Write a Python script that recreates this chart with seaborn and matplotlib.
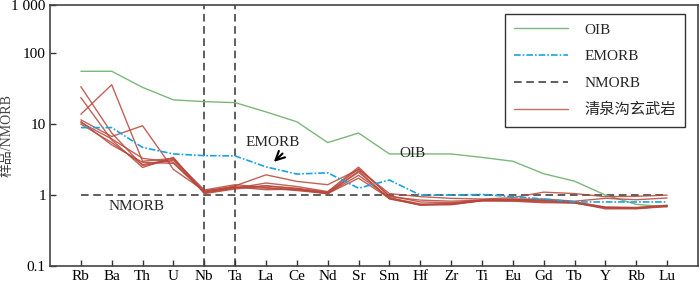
import numpy as np
import pandas as pd
import seaborn as sns
import matplotlib.pyplot as plt
from matplotlib.lines import Line2D

elements = ['Rb', 'Ba', 'Th', 'U', 'Nb', 'Ta', 'La', 'Ce', 'Nd', 'Sr', 'Sm',
            'Hf', 'Zr', 'Ti', 'Eu', 'Gd', 'Tb', 'Y', 'Rb', 'Lu']

oib = [55.7, 55.7, 33, 22, 20.8, 20.1, 14.9, 10.8, 5.5, 7.5, 3.8,
       3.8, 3.8, 3.4, 3.0, 2.0, 1.57, 1.0, 0.74, 0.68]
emorb = [8.95, 8.95, 4.7, 3.8, 3.6, 3.57, 2.5, 1.98, 2.06, 1.25, 1.63,
         1.0, 1.0, 1.02, 0.95, 0.88, 0.80, 0.80, 0.80, 0.80]
nmorb = [1.0] * 20

s1 = [13.8, 36, 3.0, 3.3, 1.12, 1.35, 1.93, 1.56, 1.4, 2.3, 1.05,
      0.95, 0.9, 0.88, 0.92, 1.1, 1.05, 0.95, 0.96, 1.0]
s2 = [33.8, 7.5, 2.6, 3.1, 1.07, 1.25, 1.48, 1.32, 1.12, 2.48, 0.95,
      0.85, 0.82, 0.85, 0.88, 0.88, 0.82, 0.9, 0.86, 0.91]
s3 = [23.7, 6.0, 2.45, 3.4, 1.05, 1.22, 1.35, 1.22, 1.08, 2.1, 0.9,
      0.73, 0.75, 0.84, 0.85, 0.82, 0.78, 0.66, 0.65, 0.7]
s4 = [11.5, 6.7, 9.5, 2.3, 1.15, 1.3, 1.25, 1.16, 1.05, 1.73, 0.9,
      0.72, 0.73, 0.83, 0.82, 0.78, 0.78, 0.64, 0.64, 0.69]
s5 = [10.9, 5.1, 2.9, 2.8, 1.1, 1.3, 1.19, 1.22, 1.04, 2.2, 0.88,
      0.73, 0.76, 0.83, 0.83, 0.8, 0.77, 0.66, 0.65, 0.7]
s6 = [10.0, 5.5, 2.7, 3.2, 1.18, 1.4, 1.28, 1.18, 1.06, 1.9, 0.92,
      0.75, 0.74, 0.84, 0.86, 0.84, 0.8, 0.67, 0.66, 0.71]
s7 = [10.5, 6.2, 3.3, 2.9, 1.09, 1.28, 1.35, 1.25, 1.1, 2.35, 0.98,
      0.8, 0.78, 0.85, 0.87, 0.85, 0.8, 0.68, 0.67, 0.72]
samples = [s1, s2, s3, s4, s5, s6, s7]

pos = np.arange(len(elements))

rows = []
for i, s in enumerate(samples):
    for p, v in zip(pos, s):
        rows.append({'pos': p, 'value': v, 'sample': i})
df = pd.DataFrame(rows)

sns.set_style('ticks')
plt.rcParams['font.family'] = ['Liberation Serif', 'Noto Sans CJK SC']
plt.rcParams['font.size'] = 11

fig = plt.figure(figsize=(7, 2.84), dpi=100)
ax = fig.add_axes([50 / 700, 1 - 266 / 284, 648 / 700, 261 / 284])

ax.axvline(4, color='#333333', ls=(0, (5, 3)), lw=1.1, zorder=1)
ax.axvline(5, color='#333333', ls=(0, (5, 3)), lw=1.1, zorder=1)

sns.lineplot(x=pos, y=oib, ax=ax, color='#7ab87a', lw=1.0, zorder=3)
sns.lineplot(x=pos, y=nmorb, ax=ax, color='#333333', lw=1.1,
             linestyle=(0, (5, 3)), zorder=2)
sns.lineplot(data=df, x='pos', y='value', units='sample', estimator=None,
             ax=ax, color='#b8473a', lw=1.0, alpha=0.85, zorder=4)
sns.lineplot(x=pos, y=emorb, ax=ax, color='#1aa3e0', lw=1.2,
             linestyle=(0, (4, 1.2, 1, 1.2)), zorder=5)

ax.set_yscale('log')
top = 479
ax.set_ylim(0.1, top)
ax.set_xlim(-1, 20)
ax.set_yticks([0.1, 1, 10, 100, top])
ax.set_yticklabels(['0.1', '1', '10', '100', '1 000'])
ax.yaxis.set_minor_locator(plt.NullLocator())
ax.set_xticks(pos)
ax.set_xticklabels(elements)
ax.tick_params(direction='in', length=4, width=1, colors='#333333',
               labelcolor='black', labelsize=11, pad=3)
ax.set_xlabel('')
ax.set_ylabel('样品/NMORB', fontsize=10, color='#444444')
ax.yaxis.set_label_coords(-0.056, 0.5)
for sp in ax.spines.values():
    sp.set_color('#444444')
    sp.set_linewidth(1.2)

ax.text(5.35, 5.6, 'EMORB', fontsize=11, ha='left', va='center')
ax.annotate('', xy=(6.19, 2.76), xytext=(6.6, 4.1),
            arrowprops=dict(arrowstyle='->', color='black', lw=1.5,
                            mutation_scale=16))
ax.text(10.76, 3.8, 'OIB', fontsize=11, ha='center', va='center')
ax.text(1.82, 0.68, 'NMORB', fontsize=11, ha='center', va='center')

handles = [
    Line2D([], [], color='#7ab87a', lw=1.0),
    Line2D([], [], color='#1aa3e0', lw=1.2, linestyle=(0, (4, 1.2, 1, 1.2))),
    Line2D([], [], color='#333333', lw=1.1, linestyle=(0, (5, 3))),
    Line2D([], [], color='#c87060', lw=1.0),
]
labels = ['OIB', 'EMORB', 'NMORB', '清泉沟玄武岩']
leg = ax.legend(handles, labels, loc='upper right',
                bbox_to_anchor=(0.98, 0.966), fontsize=11, frameon=True,
                fancybox=False, edgecolor='#333333', framealpha=1,
                handlelength=3.5, handletextpad=1.1, labelspacing=0.85,
                borderpad=0.6, borderaxespad=0)
leg.get_frame().set_linewidth(1.0)

fig.savefig('out.png', dpi=100)
